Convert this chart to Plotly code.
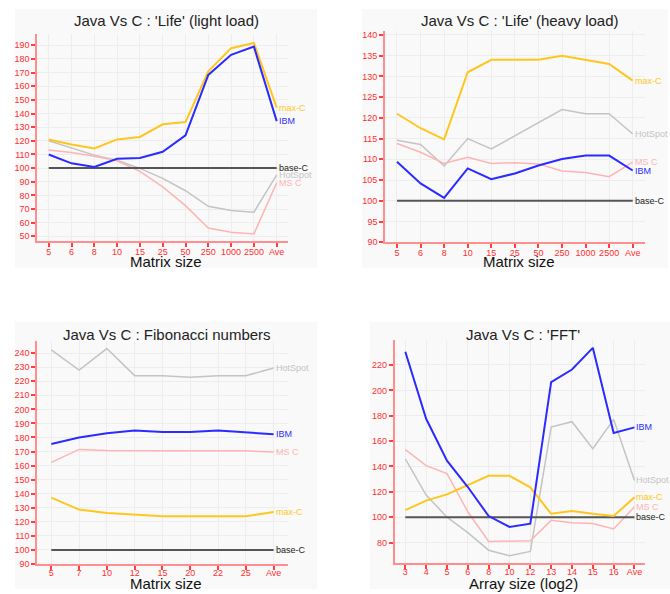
import plotly.graph_objects as go

W, H = 670, 594

# ---------------- data ----------------
life_cats = ["5", "6", "8", "10", "15", "25", "50", "250", "1000", "2500", "Ave"]
light_maxc = [121, 117.3, 114.4, 121, 122.8, 132.1, 133.7, 170.9, 187.9, 191.7, 144.3]
light_ibm = [110, 103.5, 100.8, 106.9, 107.4, 112, 124, 168.3, 183, 189, 134.4]
light_base = [100] * 11
light_hotspot = [120, 115, 109.5, 105.8, 99.8, 92.5, 83.4, 72, 68.9, 67.7, 95]
light_msc = [113.3, 111.4, 108.7, 105.4, 97.6, 86.3, 72.5, 56.1, 53, 51.8, 89.3]

heavy_maxc = [121, 117.5, 114.8, 131, 134, 134, 134, 135, 134, 133, 129]
heavy_hotspot = [114.6, 113.6, 108.4, 115, 112.5, 115.6, 118.9, 122, 121, 121, 116.1]
heavy_msc = [113.8, 111.7, 109, 110.5, 109, 109.2, 108.9, 107.2, 106.8, 105.8, 109.3]
heavy_ibm = [109.4, 104.2, 100.7, 107.8, 105.2, 106.6, 108.5, 110.1, 110.9, 110.9, 107.3]
heavy_base = [100] * 11

fib_cats = ["5", "7", "10", "12", "15", "20", "22", "25", "Ave"]
fib_hotspot = [242.3, 228, 243.3, 224, 224, 222.9, 224, 224, 229.4]
fib_ibm = [175.4, 180, 183, 185, 183.9, 183.9, 185, 183.9, 182.3]
fib_msc = [162.3, 171.5, 170.8, 170.5, 170.5, 170.5, 170.5, 170.5, 169.6]
fib_maxc = [137.2, 128.7, 126.2, 125, 124, 124, 124, 124, 126.9]
fib_base = [100] * 9

fft_cats = ["3", "4", "5", "6", "8", "10", "12", "13", "14", "15", "16", "Ave"]
fft_ibm = [230.4, 177.6, 144.6, 123.8, 100.9, 92.3, 94.9, 206.5, 216.4, 233.5, 166.4, 170.8]
fft_hotspot = [145.9, 117.5, 100, 87.8, 74, 69.7, 73, 171.1, 175.3, 154, 177.1, 129]
fft_msc = [153.2, 140.7, 134.4, 104.3, 80.9, 80.9, 81.4, 97.5, 95.7, 95, 90.7, 108.2]
fft_maxc = [105.6, 113.1, 118, 125.6, 132.6, 132.6, 123.5, 102.7, 104.8, 102.7, 100.9, 115.7]
fft_base = [100] * 12

titles = ["Java Vs C : 'Life' (light load)", "Java Vs C : 'Life' (heavy load)",
          "Java Vs C : Fibonacci numbers", "Java Vs C : 'FFT'"]
xtitles = ["Matrix size", "Matrix size", "Matrix size", "Array size (log2)"]

colors = {"max-C": "#ffc61e", "IBM": "#2b2bff", "base-C": "#555555",
          "HotSpot": "#c4c4c4", "MS C": "#ffb4b4"}
widths = {"max-C": 2, "IBM": 2, "base-C": 2, "HotSpot": 1.5, "MS C": 1.5}

charts = [
    dict(cats=life_cats, series=[("HotSpot", light_hotspot), ("MS C", light_msc), ("base-C", light_base),
                                 ("max-C", light_maxc), ("IBM", light_ibm)],
         xdom=(37.3, 288.1), ydom=(242.7, 33.3), yrange=(46.4, 198.3), dtick=10, tick0=50,
         title_xy=(166.3, 20), xt_xy=(166.3, 263.5), panel=(15, 8, 317, 270), standoff=-3),
    dict(cats=life_cats, series=[("HotSpot", heavy_hotspot), ("MS C", heavy_msc), ("base-C", heavy_base),
                                 ("max-C", heavy_maxc), ("IBM", heavy_ibm)],
         xdom=(385.2, 644.5), ydom=(243.7, 30), yrange=(90, 141.03), dtick=5, tick0=90,
         title_xy=(519, 20), xt_xy=(519, 263.5), panel=(362, 8, 668, 270), standoff=-3),
    dict(cats=fib_cats, series=[("HotSpot", fib_hotspot), ("MS C", fib_msc), ("base-C", fib_base),
                                ("max-C", fib_maxc), ("IBM", fib_ibm)],
         xdom=(37.4, 287.5), ydom=(568.7, 343.7), yrange=(90, 248.5), dtick=10, tick0=90,
         title_xy=(166.7, 336.5), xt_xy=(166.3, 588.5), panel=(15, 324, 317, 594), standoff=-5),
    dict(cats=fft_cats, series=[("HotSpot", fft_hotspot), ("MS C", fft_msc), ("base-C", fft_base),
                                ("max-C", fft_maxc), ("IBM", fft_ibm)],
         xdom=(394.9, 644.9), ydom=(568, 342.7), yrange=(63.7, 239.5), dtick=20, tick0=80,
         title_xy=(523.3, 337), xt_xy=(523.3, 588.5), panel=(370, 324, 670, 594), standoff=-5),
]

fig = go.Figure()
annotations = []
shapes = []
font_family = "Liberation Sans, Arial, sans-serif"

for i, ch in enumerate(charts):
    n = i + 1
    xa = "x" if n == 1 else f"x{n}"
    ya = "y" if n == 1 else f"y{n}"
    for name, vals in ch["series"]:
        fig.add_trace(go.Scatter(x=ch["cats"], y=vals, mode="lines", name=name,
                                 line=dict(color=colors[name], width=widths[name]),
                                 xaxis=xa, yaxis=ya, showlegend=False, hoverinfo="skip"))
        annotations.append(dict(x=ch["cats"][-1], y=vals[-1], xref=xa, yref=ya, text=name,
                                showarrow=False, xanchor="left", yanchor="middle", xshift=0,
                                font=dict(size=9, color=colors[name] if name != "base-C" else "#222222",
                                          family=font_family)))
    ncat = len(ch["cats"])
    axis_common = dict(showline=True, linecolor="#ff8f8f", linewidth=2,
                       ticks="outside", tickcolor="#ff4040", ticklen=4, tickwidth=1.5,
                       tickfont=dict(size=9, color="#ff3030", family=font_family),
                       showgrid=True, gridcolor="#ededed", gridwidth=1, zeroline=False,
                       fixedrange=True, tickangle=0)
    fig.layout[f"xaxis{n if n > 1 else ''}"] = dict(
        type="category", domain=[ch["xdom"][0] / W, ch["xdom"][1] / W],
        range=[-0.5, ncat - 0.5], anchor=ya, ticklabelstandoff=ch["standoff"], **axis_common)
    fig.layout[f"yaxis{n if n > 1 else ''}"] = dict(
        domain=[1 - ch["ydom"][0] / H, 1 - ch["ydom"][1] / H],
        range=list(ch["yrange"]), tick0=ch["tick0"], dtick=ch["dtick"], anchor=xa,
        **axis_common)
    annotations.append(dict(x=ch["title_xy"][0] / W, y=1 - ch["title_xy"][1] / H, xref="paper",
                            yref="paper", text=titles[i], showarrow=False, xanchor="center",
                            yanchor="middle", font=dict(size=15, color="#222222", family=font_family)))
    annotations.append(dict(x=ch["xt_xy"][0] / W, y=1 - ch["xt_xy"][1] / H, xref="paper",
                            yref="paper", text=xtitles[i], showarrow=False, xanchor="center",
                            yanchor="middle", borderpad=0,
                            font=dict(size=15, color="#111111", family=font_family)))
    x0, y0, x1, y1 = ch["panel"]
    shapes.append(dict(type="rect", xref="paper", yref="paper", x0=x0 / W, x1=x1 / W,
                       y0=1 - y1 / H, y1=1 - y0 / H, fillcolor="#f9f9f9", line=dict(width=0),
                       layer="below"))

fig.update_layout(width=W, height=H, margin=dict(l=0, r=0, t=0, b=0),
                  paper_bgcolor="white", plot_bgcolor="rgba(0,0,0,0)",
                  annotations=annotations, shapes=shapes, showlegend=False)

fig.write_html("out.html", config={"displayModeBar": False},
               post_script="document.body.style.margin='0';document.body.style.overflow='hidden';")
